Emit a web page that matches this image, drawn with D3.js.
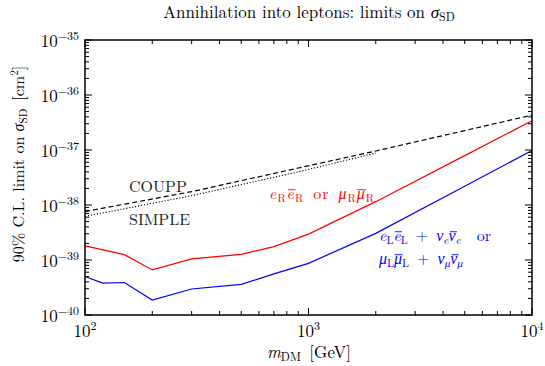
<!DOCTYPE html>
<html>
<head>
<meta charset="utf-8">
<script src="https://cdn.jsdelivr.net/npm/d3@7"></script>
<style>
  body { margin: 0; background: #fff; }
</style>
</head>
<body>
<svg id="chart" width="545" height="366"></svg>
<script>
// masses in GeV, cross sections in cm^2
const massRed = [100, 150, 200, 300, 500, 700, 1000, 2000, 5000, 10000];
const sigmaRed = [1.8e-39, 1.25e-39, 6.6e-40, 1.05e-39, 1.27e-39, 1.75e-39, 2.95e-39, 1.15e-38, 7.9e-38, 3.4e-37];

const massBlue = [100, 120, 150, 200, 300, 500, 700, 1000, 2000, 5000, 10000];
const sigmaBlue = [5.0e-40, 3.8e-40, 3.9e-40, 1.87e-40, 2.97e-40, 3.6e-40, 5.6e-40, 8.7e-40, 3.05e-39, 2.2e-38, 9.8e-38];

const massCoupp = [100, 300, 900, 2000, 10000];
const sigmaCoupp = [7.6e-39, 1.75e-38, 4.7e-38, 9.6e-38, 4.3e-37];

const massSimple = [100, 300, 900, 2000];
const sigmaSimple = [6.2e-39, 1.48e-38, 4.0e-38, 8.8e-38];

const xTickExps = [2, 3, 4];
const yTickExps = [-40, -39, -38, -37, -36, -35];

const svg = d3.select("#chart")
  .style("font-family", '"Latin Modern Roman", "Liberation Serif", serif');
const m = {left: 85, right: 13, top: 40, bottom: 51};
const width = 545, height = 366;

const x = d3.scaleLog().domain([100, 1e4]).range([m.left, width - m.right]);
const y = d3.scaleLog().domain([1e-40, 1e-35]).range([height - m.bottom, m.top]);

const x0 = x.range()[0], x1 = x.range()[1];
const y0 = y.range()[0], y1 = y.range()[1];

// curves
const line = d3.line().x(d => x(d[0])).y(d => y(d[1]));

function drawCurve(ms, ss, color, dash, w) {
  svg.append("path")
    .datum(ms.map((v, i) => [v, ss[i]]))
    .attr("d", line)
    .attr("fill", "none")
    .attr("stroke", color)
    .attr("stroke-width", w)
    .attr("stroke-dasharray", dash);
}

drawCurve(massCoupp, sigmaCoupp, "#000", "5,3", 1.2);
drawCurve(massSimple, sigmaSimple, "#000", "1.2,1.8", 1.1);
drawCurve(massRed, sigmaRed, "#ff0000", null, 1.2);
drawCurve(massBlue, sigmaBlue, "#0000ff", null, 1.2);

// frame
svg.append("rect")
  .attr("x", x0).attr("y", y1)
  .attr("width", x1 - x0).attr("height", y0 - y1)
  .attr("fill", "none").attr("stroke", "#000").attr("stroke-width", 1.5);

// ticks (inward, all four sides)
const ticks = svg.append("g").attr("stroke", "#000").attr("stroke-width", 1);
const xMinor = [], yMinor = [];
for (let e = 2; e < 4; e++) for (let k = 2; k <= 9; k++) xMinor.push(k * Math.pow(10, e));
for (let e = -40; e < -35; e++) for (let k = 2; k <= 9; k++) yMinor.push(k * Math.pow(10, e));

xTickExps.forEach(e => {
  const px = x(Math.pow(10, e));
  ticks.append("line").attr("x1", px).attr("x2", px).attr("y1", y0).attr("y2", y0 - 7);
  ticks.append("line").attr("x1", px).attr("x2", px).attr("y1", y1).attr("y2", y1 + 7);
});
xMinor.forEach(v => {
  const px = x(v);
  ticks.append("line").attr("x1", px).attr("x2", px).attr("y1", y0).attr("y2", y0 - 4);
  ticks.append("line").attr("x1", px).attr("x2", px).attr("y1", y1).attr("y2", y1 + 4);
});
yTickExps.forEach(e => {
  const py = y(Math.pow(10, e));
  ticks.append("line").attr("x1", x0).attr("x2", x0 + 7).attr("y1", py).attr("y2", py);
  ticks.append("line").attr("x1", x1).attr("x2", x1 - 7).attr("y1", py).attr("y2", py);
});
yMinor.forEach(v => {
  const py = y(v);
  ticks.append("line").attr("x1", x0).attr("x2", x0 + 4).attr("y1", py).attr("y2", py);
  ticks.append("line").attr("x1", x1).attr("x2", x1 - 4).attr("y1", py).attr("y2", py);
});

// tick labels
xTickExps.forEach(e => {
  const t = svg.append("text")
    .attr("x", x(Math.pow(10, e))).attr("y", y0 + 22)
    .attr("text-anchor", "middle").attr("font-size", 17);
  t.append("tspan").text("10");
  t.append("tspan").attr("font-size", 12).attr("dy", -7).text(e);
});
yTickExps.forEach(e => {
  const t = svg.append("text")
    .attr("x", x0 - 6).attr("y", y(Math.pow(10, e)) + 7)
    .attr("text-anchor", "end").attr("font-size", 17);
  t.append("tspan").text("10");
  t.append("tspan").attr("font-size", 12).attr("dy", -7).text("\u2212" + (-e));
});

// text with sub/superscripts; style: "i" italic, "b" italic with overbar,
// "s" roman subscript, "si" italic subscript, "p" superscript, "r" roman
const bars = [];
function rich(xp, yp, parts, opts) {
  const t = svg.append("text").attr("x", xp).attr("y", yp)
    .attr("font-size", opts.size).attr("fill", opts.color || "#000")
    .attr("text-anchor", opts.anchor || "start");
  if (opts.rotate) t.attr("transform", `rotate(-90,${xp},${yp})`);
  if (opts.spacing) t.attr("letter-spacing", opts.spacing);
  let shift = 0;
  parts.forEach(([s, st]) => {
    const ts = t.append("tspan").text(s);
    let target = 0;
    if (st === "i" || st === "b" || st === "si") ts.attr("font-style", "italic");
    if (st === "s" || st === "si") { ts.attr("font-size", opts.size * 0.7); target = 3; }
    if (st === "p") { ts.attr("font-size", opts.size * 0.7); target = -6; }
    if (target !== shift) { ts.attr("dy", target - shift); shift = target; }
    if (st === "b") bars.push({node: ts.node(), base: yp, size: opts.size, color: opts.color || "#000"});
  });
  return t;
}

// title
rich(309, 18, [["Annihilation into leptons: limits on ", "r"], ["\u03c3", "i"], ["SD", "s"]],
  {size: 17, anchor: "middle"});

// axis titles
rich(309, 358, [["m", "i"], ["DM", "s"], ["\u00a0[GeV]", "r"]], {size: 17, anchor: "middle"});
rich(24, 164, [["90% C.L. limit on ", "r"], ["\u03c3", "i"], ["SD", "s"], ["\u00a0[cm", "r"], ["2", "p"], ["]", "r"]],
  {size: 16, anchor: "middle", rotate: true});

// curve labels
svg.append("text").attr("x", 129).attr("y", 192).attr("font-size", 16).attr("fill", "#222").text("COUPP");
svg.append("text").attr("x", 129).attr("y", 225).attr("font-size", 16).attr("fill", "#222").text("SIMPLE");

rich(269, 199, [["e", "i"], ["R", "s"], ["e", "b"], ["R", "s"], ["\u00a0or\u00a0", "r"],
  ["\u03bc", "i"], ["R", "s"], ["\u03bc", "b"], ["R", "s"]],
  {size: 16, color: "#ff0000", spacing: 1});
rich(379, 241, [["e", "i"], ["L", "s"], ["e", "b"], ["L", "s"], ["\u00a0+\u00a0", "r"],
  ["\u03bd", "i"], ["e", "si"], ["\u03bd", "b"], ["e", "si"], ["\u00a0\u00a0or", "r"]],
  {size: 16, color: "#0000ff"});
rich(379, 264, [["\u03bc", "i"], ["L", "s"], ["\u03bc", "b"], ["L", "s"], ["\u00a0+\u00a0", "r"],
  ["\u03bd", "i"], ["\u03bc", "si"], ["\u03bd", "b"], ["\u03bc", "si"]],
  {size: 16, color: "#0000ff"});

// overbars drawn over the barred letters
bars.forEach(b => {
  const bb = b.node.getBBox();
  svg.append("line")
    .attr("x1", bb.x + 1.5).attr("x2", bb.x + bb.width + 0.5)
    .attr("y1", b.base - b.size * 0.58).attr("y2", b.base - b.size * 0.58)
    .attr("stroke", b.color).attr("stroke-width", 0.9);
});
</script>
</body>
</html>
